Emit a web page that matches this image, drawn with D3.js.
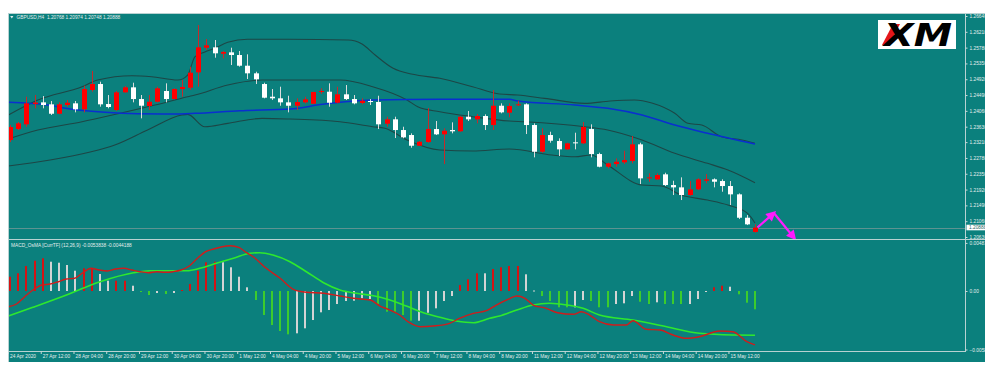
<!DOCTYPE html>
<html lang="en">
<head>
	<title>GBPUSD,H4</title>
	<meta charset="utf-8">
	<script src="https://d3js.org/d3.v7.min.js"></script>
	<style type="text/css">
		body {
			margin: 0;
			background: #fff;
		}

		svg {
			display: block;
		}

		text {
			font-family: "Liberation Sans", Arial, sans-serif;
			font-size: 4.8px;
			fill: #e4eeee;
		}

		.band {
			fill: none;
			stroke: #1d4646;
			stroke-width: 1.1;
		}

		.ma {
			fill: none;
			stroke: #0a2fd0;
			stroke-width: 1.5;
		}

		.frame {
			stroke: #b8d2d2;
			stroke-width: 1;
			shape-rendering: crispEdges;
		}
	</style>
</head>
<body>
	<div id="vis"></div>

	<script type="text/javascript">

		/* Data */
		/* ==== */

		// H4 candles, 24 Apr 20:00 .. 18 May 00:00
		const openP = [
			1.23267, 1.23566, 1.23694, 1.24246, 1.24292, 1.24238, 1.23982, 1.24219, 1.24265, 1.24102,
			1.24627, 1.24790, 1.24246, 1.24083, 1.24564, 1.24700, 1.24382, 1.24192, 1.24309, 1.24600,
			1.24382, 1.24654, 1.24690, 1.25108, 1.25778, 1.25788, 1.25614, 1.25652, 1.25579, 1.25288,
			1.25081, 1.24790, 1.24445, 1.24401, 1.24292, 1.24200, 1.24292, 1.24254, 1.24573, 1.24581,
			1.24282, 1.24510, 1.24382, 1.24273, 1.24328, 1.24301, 1.23710, 1.23830, 1.23539, 1.23403,
			1.23112, 1.23213, 1.23566, 1.23422, 1.23539, 1.23504, 1.23901, 1.23830, 1.23920, 1.23675,
			1.24200, 1.24010, 1.24211, 1.24238, 1.23675, 1.22949, 1.23403, 1.23240, 1.23014, 1.23204,
			1.23177, 1.23566, 1.22886, 1.22541, 1.22614, 1.22660, 1.22696, 1.23150, 1.22225, 1.22198,
			1.22334, 1.22043, 1.21980, 1.21771, 1.21926, 1.22160, 1.22198, 1.22152, 1.22016, 1.21790,
			1.21154, 1.20768
		];
		const highP = [
			1.23675, 1.23757, 1.24445, 1.24491, 1.24464, 1.24328, 1.24292, 1.24355, 1.24328, 1.24744,
			1.25144, 1.24853, 1.24491, 1.24600, 1.24736, 1.24826, 1.24491, 1.24491, 1.24717, 1.24809,
			1.24673, 1.24899, 1.25261, 1.26395, 1.26014, 1.25987, 1.25688, 1.25778, 1.25688, 1.25598,
			1.25125, 1.24826, 1.24654, 1.24717, 1.24472, 1.24401, 1.24445, 1.24581, 1.24673, 1.24809,
			1.24717, 1.24763, 1.24491, 1.24401, 1.24382, 1.24472, 1.23901, 1.23901, 1.23629, 1.23449,
			1.23240, 1.24137, 1.23784, 1.23585, 1.23748, 1.23920, 1.24056, 1.23974, 1.23966, 1.24627,
			1.24265, 1.24265, 1.24336, 1.24265, 1.23721, 1.23585, 1.23493, 1.23313, 1.23194, 1.23466,
			1.23757, 1.23694, 1.22922, 1.22650, 1.22769, 1.22976, 1.23376, 1.23194, 1.22361, 1.22361,
			1.22378, 1.22160, 1.22252, 1.22152, 1.22225, 1.22342, 1.22225, 1.22198, 1.22152, 1.21817,
			1.21227, 1.20974
		];
		const lowP = [
			1.23213, 1.23539, 1.23629, 1.24129, 1.24129, 1.23947, 1.23966, 1.24173, 1.24020, 1.24020,
			1.24581, 1.24173, 1.24129, 1.24064, 1.24554, 1.24292, 1.23857, 1.24083, 1.24292, 1.24292,
			1.24374, 1.24445, 1.24627, 1.24717, 1.25715, 1.25506, 1.25489, 1.25307, 1.25261, 1.24926,
			1.24790, 1.24401, 1.24355, 1.24200, 1.24020, 1.24083, 1.24265, 1.24246, 1.24526, 1.24173,
			1.24265, 1.24355, 1.24238, 1.24238, 1.24219, 1.23566, 1.23629, 1.23321, 1.23313, 1.23058,
			1.23104, 1.23194, 1.23403, 1.22614, 1.23449, 1.23493, 1.23784, 1.23721, 1.23539, 1.23539,
			1.23993, 1.23884, 1.24192, 1.23430, 1.22796, 1.22922, 1.23194, 1.22832, 1.22995, 1.23014,
			1.23158, 1.22796, 1.22524, 1.22497, 1.22541, 1.22614, 1.22633, 1.22070, 1.22133, 1.22179,
			1.22016, 1.21771, 1.21635, 1.21752, 1.21907, 1.22089, 1.21980, 1.21861, 1.21499, 1.21118,
			1.20955, 1.20748
		];
		const closeP = [
			1.23621, 1.23721, 1.24265, 1.24287, 1.24219, 1.23982, 1.24238, 1.24282, 1.24102, 1.24654,
			1.24790, 1.24238, 1.24165, 1.24564, 1.24700, 1.24382, 1.24200, 1.24309, 1.24673, 1.24382,
			1.24654, 1.24709, 1.25098, 1.25788, 1.25843, 1.25625, 1.25661, 1.25579, 1.25288, 1.25081,
			1.24918, 1.24418, 1.24401, 1.24292, 1.24200, 1.24301, 1.24374, 1.24573, 1.24600, 1.24282,
			1.24510, 1.24382, 1.24265, 1.24336, 1.24301, 1.23694, 1.23830, 1.23539, 1.23340, 1.23112,
			1.23221, 1.23566, 1.23422, 1.23520, 1.23504, 1.23901, 1.23830, 1.23920, 1.23675, 1.24200,
			1.24020, 1.24192, 1.24238, 1.23675, 1.22949, 1.23403, 1.23248, 1.23014, 1.23177, 1.23177,
			1.23621, 1.22886, 1.22541, 1.22633, 1.22677, 1.22723, 1.23150, 1.22225, 1.22252, 1.22315,
			1.22043, 1.21980, 1.21771, 1.21926, 1.22198, 1.22198, 1.22133, 1.22016, 1.21790, 1.21154,
			1.20974, 1.20888
		];

		// Indicator lines as [bar index, price]
		const upperBand = [[-0.2, 1.23947], [3.4, 1.24355], [8.8, 1.24717], [10.7, 1.24899], [14.9, 1.25016], [17.3, 1.24989], [20.5, 1.24899], [21.7, 1.25035], [22.6, 1.25533], [23.8, 1.25661], [25, 1.25761], [26.6, 1.25924], [29, 1.26006], [34, 1.26006], [41.3, 1.25987], [43, 1.25878], [44.6, 1.25579], [46.8, 1.25217], [49.2, 1.25054], [52.5, 1.24945], [56.5, 1.24717], [59.8, 1.24518], [62, 1.24491], [65.3, 1.24401], [70.2, 1.24265], [73.3, 1.24328], [76.3, 1.24355], [78.4, 1.24273], [81.2, 1.23993], [82.8, 1.23721], [84.5, 1.23675], [86.9, 1.23357], [89.4, 1.23267], [91, 1.23177]];
		const middleBand = [[-0.6, 1.23267], [3.4, 1.23539], [8.8, 1.23765], [12.5, 1.23947], [17.7, 1.24219], [21.7, 1.24445], [22.6, 1.24491], [26.6, 1.24763], [30.8, 1.24899], [34.2, 1.24899], [40.3, 1.24899], [44.3, 1.24717], [48.5, 1.24355], [49.8, 1.24173], [52.5, 1.24037], [56.5, 1.23901], [61, 1.23784], [62.9, 1.23765], [70.2, 1.23629], [73, 1.23539], [77.2, 1.23267], [81.2, 1.22905], [85.2, 1.22633], [87.7, 1.22451], [91, 1.22106]];
		const lowerBand = [[-0.2, 1.22560], [4.9, 1.22723], [9.8, 1.22941], [12.8, 1.23131], [16.8, 1.23539], [21, 1.23947], [21.7, 1.23966], [23.8, 1.23629], [26.6, 1.23721], [30.8, 1.23857], [34.2, 1.23838], [40.3, 1.23765], [44.3, 1.23629], [45.8, 1.23585], [48.5, 1.23267], [52.5, 1.22995], [56.5, 1.22968], [61, 1.23022], [66.2, 1.22859], [69, 1.22813], [71, 1.22859], [73, 1.22587], [77.2, 1.22043], [79.6, 1.22016], [82, 1.21771], [85.2, 1.21635], [87.7, 1.21499], [90.1, 1.21273], [91, 1.21011]];
		const maLine = [[-0.2, 1.24292], [4.6, 1.24219], [7.6, 1.24102], [11.6, 1.24021], [15.6, 1.23983], [19.8, 1.23975], [22.6, 1.23993], [28.1, 1.24064], [34.2, 1.24110], [38.2, 1.24238], [44.3, 1.24355], [52.5, 1.24374], [61, 1.24374], [62, 1.24328], [69, 1.24219], [73, 1.24129], [77.2, 1.23947], [81.2, 1.23675], [85.2, 1.23449], [91, 1.23157]];

		// Zigzag forecast arrow [bar index, price]
		const forecast = [[91.3, 1.20888], [93.3, 1.21281], [95.8, 1.20602]];

		// MACD_OsMA histogram, one bar per candle
		const osma = [
			0.00143, 0.00177, 0.0025, 0.00303, 0.00327, 0.00293, 0.00283, 0.0026, 0.00203, 0.00227,
			0.00227, 0.0017, 0.00103, 0.00103, 0.00103, 0.00053, -0.0001, -0.0004, -0.0002, -0.0003,
			-0.0002, 0.0001, 0.0007, 0.00203, 0.00287, 0.00293, 0.00287, 0.00237, 0.00143, 0.00037,
			-0.0009, -0.0024, -0.0034, -0.004, -0.00433, -0.00423, -0.00373, -0.0029, -0.00213, -0.0019,
			-0.0013, -0.001, -0.00097, -0.00073, -0.0008, -0.0013, -0.00207, -0.00207, -0.0024, -0.00297,
			-0.00297, -0.00217, -0.00173, -0.001, -0.0005, 0.0006, 0.00117, 0.00177, 0.00177, 0.0022,
			0.00237, 0.0025, 0.0025, 0.00167, 0.00005, -0.0005, -0.001, -0.00163, -0.00163, -0.00163,
			-0.0009, -0.001, -0.00163, -0.00163, -0.0013, -0.00123, -0.0005, -0.00107, -0.0013, -0.00113,
			-0.0013, -0.0013, -0.0013, -0.0013, -0.0008, -0.0001, 0.00037, 0.00053, 0.00043, -0.00033,
			-0.00117, -0.00183
		];
		// r = red, w = white, g = green
		const osmaColor = (
			"rrrrrwwwwrrwwrrwggwgwrrrrrwwwwgggggwwwwwwwwwwggggg" +
			"wwwwwrrrwrrrrwwggggwwgggwwwggwgggwwwrrwggg"
		).split("");

		const macdLine = [[-0.2, -0.00157], [0.8, -0.0013], [1.8, -0.00057], [2.8, 0.0001], [3.9, 0.0006], [4.9, 0.0007], [5.9, 0.00093], [6.9, 0.0012], [7.9, 0.00127], [8.9, 0.00183], [9.9, 0.00227], [10.9, 0.0021], [11.9, 0.002], [12.9, 0.0022], [13.9, 0.00227], [14.9, 0.0021], [15.9, 0.00193], [16.9, 0.00183], [17.9, 0.00193], [18.9, 0.00187], [19.9, 0.00193], [20.9, 0.0021], [21.9, 0.0025], [22.9, 0.00327], [23.9, 0.00393], [24.9, 0.0042], [25.9, 0.00443], [26.9, 0.00453], [28, 0.00433], [28.9, 0.00383], [29.7, 0.00343], [31.3, 0.00227], [33, 0.00127], [34.6, 0.00017], [36.2, -0.00013], [38.3, -0.00023], [40.3, -0.0005], [41.9, -0.00073], [44, -0.0009], [45.2, -0.0015], [46.4, -0.0019], [47.6, -0.0024], [48.8, -0.00317], [50.1, -0.00357], [51.7, -0.0035], [53.7, -0.00323], [54.9, -0.00273], [56.6, -0.00223], [58.2, -0.00197], [59.4, -0.0014], [61.1, -0.00073], [61.9, -0.0005], [62.9, -0.00073], [63.9, -0.0014], [65.5, -0.00173], [66.9, -0.00217], [68.8, -0.00233], [69.8, -0.00207], [70.8, -0.0024], [72, -0.00307], [73.7, -0.0034], [75.3, -0.0034], [76.1, -0.00297], [77.7, -0.00383], [79.4, -0.0039], [81, -0.0044], [82.6, -0.00473], [84.2, -0.00457], [86.7, -0.004], [88.3, -0.00407], [90, -0.00507], [91, -0.00538]];
		const signalLine = [[-0.2, -0.0025], [2.8, -0.00163], [6.9, -0.0004], [11, 0.00093], [15.1, 0.00183], [17.1, 0.00203], [21.6, 0.00203], [23.2, 0.00227], [25.2, 0.00277], [27.3, 0.00327], [29.3, 0.00377], [30.5, 0.00383], [32.1, 0.0036], [34.2, 0.00293], [36.2, 0.00193], [38.3, 0.00083], [40.3, 0.0001], [42.3, -0.00023], [44.4, -0.00047], [46.4, -0.0009], [48.4, -0.0015], [50.5, -0.00217], [52.5, -0.00263], [54.5, -0.003], [56.6, -0.00317], [58.6, -0.00273], [59.8, -0.0025], [61.9, -0.0019], [63.9, -0.0014], [65.9, -0.00123], [68, -0.0014], [70, -0.00173], [72, -0.0024], [76.1, -0.0029], [80.2, -0.00357], [84.2, -0.00423], [88.3, -0.0044], [91, -0.00442]];

		// Axis labels
		const priceTicks = [1.26640, 1.26210, 1.25780, 1.25350, 1.24920, 1.24490, 1.24060, 1.23630, 1.23210, 1.22780, 1.22350, 1.21920, 1.21490, 1.21060, 1.20630];
		const macdTicks = [0.00481, 0, -0.005848];
		const timeIdx = d3.range(0, 92, 4);
		const timeLabels = ["24 Apr 2020", "27 Apr 12:00", "28 Apr 04:00", "28 Apr 20:00", "29 Apr 12:00", "30 Apr 04:00", "30 Apr 20:00", "1 May 12:00", "4 May 04:00", "4 May 20:00", "5 May 12:00", "6 May 04:00", "6 May 20:00", "7 May 12:00", "8 May 04:00", "8 May 20:00", "11 May 12:00", "12 May 04:00", "12 May 20:00", "13 May 12:00", "14 May 04:00", "14 May 20:00", "15 May 12:00"];

		const symbolTitle = "GBPUSD,H4  1.20768 1.20974 1.20748 1.20888";
		const macdTitle = "MACD_OsMA [CurrTF] (12,26,9) -0.0053838 -0.0044188";
		const lastPrice = 1.20888;


		function make() {

			/* Set up */
			/* ====== */

			var width = 1000, height = 373;
			var area = { left: 8, right: 965, outer: 985, top: 13, bottom: 362 };
			var mainPane = { top: 13.5, bottom: 239 };
			var subPane = { top: 241, bottom: 351.5 };

			var svg = d3.select('#vis').append('svg')
				.attr('width', width)
				.attr('height', height);

			var defs = svg.append('defs');
			defs.append('clipPath').attr('id', 'clip-all').append('rect')
				.attr('x', area.left).attr('y', area.top)
				.attr('width', area.outer - area.left).attr('height', area.bottom - area.top);
			defs.append('clipPath').attr('id', 'clip-main').append('rect')
				.attr('x', area.left + 0.5).attr('y', mainPane.top)
				.attr('width', area.right - area.left).attr('height', mainPane.bottom - mainPane.top);
			defs.append('clipPath').attr('id', 'clip-sub').append('rect')
				.attr('x', area.left + 0.5).attr('y', subPane.top)
				.attr('width', area.right - area.left).attr('height', subPane.bottom - subPane.top);

			defs.append('marker')
				.attr('id', 'arrow')
				.attr('markerUnits', 'userSpaceOnUse')
				.attr('viewBox', '0 0 10 10')
				.attr('refX', 7).attr('refY', 5)
				.attr('markerWidth', 11).attr('markerHeight', 10)
				.attr('orient', 'auto')
				.append('path')
				.attr('d', 'M0,0 L10,5 L0,10 Z')
				.attr('fill', '#ff1aff');

			var g = svg.append('g').attr('clip-path', 'url(#clip-all)');

			g.append('rect')
				.attr('x', area.left).attr('y', area.top)
				.attr('width', area.outer - area.left).attr('height', area.bottom - area.top)
				.attr('fill', '#0b807d');


			/* Scales */
			/* ====== */

			var x = d3.scaleLinear().domain([0, 91]).range([10, 755]);
			var y = d3.scaleLinear().domain([1.20630, 1.26640]).range([237, 16]);
			var ym = d3.scaleLinear().domain([-0.005848, 0.00481]).range([349.5, 242.9]);

			var bars = d3.range(openP.length).map(function (i) {
				return { i: i, o: openP[i], h: highP[i], l: lowP[i], c: closeP[i] };
			});


			/* Main pane */
			/* ========= */

			var gMain = g.append('g').attr('clip-path', 'url(#clip-main)');

			var priceLine = d3.line()
				.x(function (d) { return x(d[0]); })
				.y(function (d) { return y(d[1]); })
				.curve(d3.curveMonotoneX);

			// current price line
			gMain.append('line')
				.attr('x1', area.left).attr('x2', area.right)
				.attr('y1', Math.round(y(lastPrice)) + 0.5).attr('y2', Math.round(y(lastPrice)) + 0.5)
				.attr('stroke', '#5d9391').attr('stroke-width', 1);

			[upperBand, middleBand, lowerBand].forEach(function (band) {
				gMain.append('path').attr('class', 'band').attr('d', priceLine(band));
			});
			gMain.append('path').attr('class', 'ma').attr('d', priceLine(maLine));

			var candle = gMain.selectAll('.candle')
				.data(bars).enter()
				.append('g')
				.attr('class', 'candle');

			candle.append('line')
				.attr('x1', function (d) { return Math.round(x(d.i)) + 0.5; })
				.attr('x2', function (d) { return Math.round(x(d.i)) + 0.5; })
				.attr('y1', function (d) { return y(d.h); })
				.attr('y2', function (d) { return y(d.l); })
				.attr('stroke', function (d) { return d.c >= d.o ? '#c62a2a' : '#dcdcdc'; })
				.attr('stroke-width', 1);

			candle.append('rect')
				.attr('x', function (d) { return Math.round(x(d.i)) - 2; })
				.attr('width', 5)
				.attr('y', function (d) { return y(Math.max(d.o, d.c)); })
				.attr('height', function (d) { return Math.max(1, Math.abs(y(d.o) - y(d.c))); })
				.attr('fill', function (d) { return d.c >= d.o ? '#ff0000' : '#ffffff'; });

			// forecast zigzag
			for (var k = 0; k < forecast.length - 1; k++) {
				g.append('line')
					.attr('x1', x(forecast[k][0])).attr('y1', y(forecast[k][1]))
					.attr('x2', x(forecast[k + 1][0])).attr('y2', y(forecast[k + 1][1]))
					.attr('stroke', '#ff1aff')
					.attr('stroke-width', 2.2)
					.attr('marker-end', 'url(#arrow)');
			}


			/* MACD pane */
			/* ========= */

			var gSub = g.append('g').attr('clip-path', 'url(#clip-sub)');
			var colorOf = { r: '#d41414', w: '#d4d4d4', g: '#3ccc2c' };

			gSub.selectAll('.osma')
				.data(osma).enter()
				.append('rect')
				.attr('class', 'osma')
				.attr('x', function (d, i) { return Math.round(x(i)) - 1; })
				.attr('width', 2)
				.attr('y', function (d) { return Math.min(ym(0), ym(d)); })
				.attr('height', function (d) { return Math.max(1, Math.abs(ym(d) - ym(0))); })
				.attr('fill', function (d, i) { return colorOf[osmaColor[i]]; });

			var macdPath = d3.line()
				.x(function (d) { return x(d[0]); })
				.y(function (d) { return ym(d[1]); })
				.curve(d3.curveMonotoneX);

			gSub.append('path').attr('d', macdPath(signalLine))
				.attr('fill', 'none').attr('stroke', '#2ee82e').attr('stroke-width', 1.6);
			gSub.append('path').attr('d', macdPath(macdLine))
				.attr('fill', 'none').attr('stroke', '#d01c1c').attr('stroke-width', 1.4);


			/* Frame */
			/* ===== */

			g.append('line').attr('class', 'frame')
				.attr('x1', area.left).attr('x2', area.outer).attr('y1', area.top + 0.5).attr('y2', area.top + 0.5);
			g.append('line').attr('class', 'frame')
				.attr('x1', area.left + 0.5).attr('x2', area.left + 0.5).attr('y1', area.top).attr('y2', area.bottom);
			g.append('line').attr('class', 'frame')
				.attr('x1', area.right + 0.5).attr('x2', area.right + 0.5).attr('y1', area.top).attr('y2', subPane.bottom);
			g.append('line').attr('class', 'frame')
				.attr('x1', area.left).attr('x2', area.outer).attr('y1', 239.5).attr('y2', 239.5)
				.style('stroke-width', 1.6);
			g.append('line').attr('class', 'frame')
				.attr('x1', area.left).attr('x2', area.right).attr('y1', subPane.bottom).attr('y2', subPane.bottom);


			/* Axes */
			/* ==== */

			var yAxis = d3.axisRight(y)
				.tickValues(priceTicks)
				.tickSize(2)
				.tickPadding(2)
				.tickFormat(d3.format('.5f'));

			var yAxisDraw = g.append('g')
				.attr('transform', 'translate(' + (area.right + 0.5) + ',0)')
				.call(yAxis);

			var ymAxis = d3.axisRight(ym)
				.tickValues(macdTicks)
				.tickSize(2)
				.tickPadding(2)
				.tickFormat(function (d) { return d === 0 ? '0.00' : d3.format('.6f')(d); });

			var ymAxisDraw = g.append('g')
				.attr('transform', 'translate(' + (area.right + 0.5) + ',0)')
				.call(ymAxis);

			var xAxis = d3.axisBottom(x)
				.tickValues(timeIdx)
				.tickSize(2.5)
				.tickFormat(function (d, i) { return timeLabels[i]; });

			var xAxisDraw = g.append('g')
				.attr('transform', 'translate(-2,' + subPane.bottom + ')')
				.call(xAxis);

			xAxisDraw.selectAll('text')
				.attr('y', 5)
				.attr('dx', '1.6')
				.attr('dy', '0.35em')
				.style('text-anchor', 'start');

			[yAxisDraw, ymAxisDraw, xAxisDraw].forEach(function (ax) {
				ax.select('.domain').remove();
				ax.selectAll('.tick line').attr('stroke', '#c8dada');
				ax.selectAll('text')
					.attr('fill', '#e4eeee')
					.style('font-size', '4.8px')
					.style('font-family', '"Liberation Sans", Arial, sans-serif');
			});

			// bid price box
			var bidY = y(lastPrice);
			g.append('rect')
				.attr('x', area.right + 1.5).attr('y', bidY - 2.8)
				.attr('width', area.outer - area.right - 1.5).attr('height', 5.6)
				.attr('fill', '#ffffff');
			g.append('text')
				.attr('x', area.right + 4).attr('y', bidY)
				.attr('dy', '0.35em')
				.style('fill', '#2a6666')
				.text(d3.format('.5f')(lastPrice));


			/* Titles */
			/* ====== */

			g.append('path')
				.attr('d', 'M10.2,16 L13.4,16 L11.8,18.4 Z')
				.attr('fill', '#e4eeee');
			g.append('text')
				.attr('x', 16.5).attr('y', 17.3)
				.attr('dy', '0.35em')
				.attr('xml:space', 'preserve')
				.text(symbolTitle);
			g.append('text')
				.attr('x', 11).attr('y', 245)
				.attr('dy', '0.35em')
				.text(macdTitle);


			/* Logo */
			/* ==== */

			var logo = g.append('g').attr('class', 'logo');
			logo.append('rect')
				.attr('x', 878).attr('y', 20)
				.attr('width', 78).attr('height', 29)
				.attr('fill', '#ffffff');
			logo.append('path')
				.attr('d', 'M882,45 L889,45 L900,24 L893,24 Z')
				.attr('fill', '#e4161b');
			logo.append('text')
				.attr('x', 884).attr('y', 45.5)
				.attr('textLength', 68)
				.attr('lengthAdjust', 'spacingAndGlyphs')
				.style('font-family', '"DejaVu Sans", sans-serif')
				.style('font-size', '32px')
				.style('font-weight', 'bold')
				.style('font-style', 'italic')
				.style('fill', '#000000')
				.text('XM');

		} // make()

		make();

	</script>
</body>
</html>
